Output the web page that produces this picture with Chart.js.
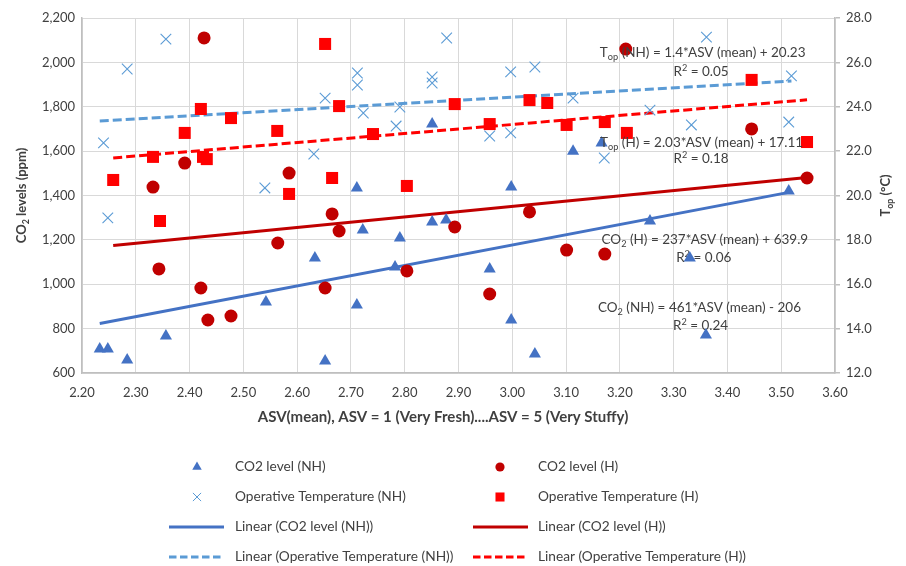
<!DOCTYPE html>
<html><head><meta charset="utf-8">
<script src="https://cdn.jsdelivr.net/npm/chart.js@4/dist/chart.umd.min.js"></script>
<style>html,body{margin:0;padding:0;background:#fff}canvas{display:block}</style>
</head><body>
<canvas id="c" width="906" height="566"></canvas>
<script>
// ---- data ----
const asvCO2NH = [2.233,2.248,2.284,2.356,2.542,2.633,2.652,2.711,2.711,2.722,2.782,2.791,2.851,2.851,2.877,2.958,2.998,2.998,3.042,3.113,3.166,3.256,3.330,3.360,3.514];
const co2NH    = [708,708,659,767,920,1118,654,907,1434,1245,1078,1208,1281,1722,1290,1069,1438,839,686,1600,1637,1285,1118,771,1420];

const asvCO2H = [2.332,2.343,2.391,2.421,2.427,2.434,2.477,2.564,2.585,2.652,2.665,2.678,2.804,2.893,2.958,3.032,3.101,3.172,3.211,3.445,3.548];
const co2H    = [1438,1069,1546,983,2110,839,857,1186,1501,983,1317,1240,1060,1258,956,1326,1154,1136,2060,1700,1479];

const asvTopNH = [2.240,2.248,2.284,2.356,2.540,2.631,2.652,2.712,2.712,2.723,2.784,2.791,2.851,2.851,2.878,2.958,2.997,2.997,3.042,3.113,3.171,3.256,3.333,3.361,3.514,3.519];
const topNH    = [22.37,18.99,25.70,27.05,20.34,21.87,24.39,25.52,24.98,23.72,23.13,23.99,25.34,25.07,27.10,22.68,25.57,22.82,25.79,24.39,21.69,23.85,23.18,27.14,23.31,25.39];

const asvTopH = [2.258,2.332,2.345,2.391,2.421,2.425,2.432,2.477,2.563,2.585,2.652,2.665,2.678,2.741,2.804,2.893,2.958,3.032,3.065,3.101,3.172,3.213,3.445,3.548];
const topH    = [20.70,21.74,18.85,22.82,23.90,21.74,21.64,23.49,22.91,20.07,26.83,20.79,24.03,22.77,20.43,24.12,23.22,24.30,24.17,23.18,23.31,22.82,25.21,22.41];

// trendline coefficients [slope, intercept] as printed on the chart
const fitCO2NH = [461, -206];
const fitCO2H  = [237, 639.9];
const fitTopNH = [1.4, 20.23];
const fitTopH  = [2.03, 17.11];

const xTicks = {min:2.2, max:3.6, step:0.1};
const yTicks = {min:600, max:2200, step:200};
const y2Ticks = {min:12, max:28, step:2};

const seriesNames = ['CO2 level (NH)','CO2 level (H)','Operative Temperature (NH)','Operative Temperature (H)',
  'Linear (CO2 level (NH))','Linear (CO2 level (H))','Linear (Operative Temperature (NH))','Linear (Operative Temperature (H))'];

// equation labels: [segments, asv, value, axis]
const eqTop = [
  [[['T'],['op','sub'],[' (NH) = 1.4*ASV (mean) + 20.23']], 3.354, 26.42, 'y2'],
  [[['R'],['2','sup'],[' = 0.05']], 3.351, 25.57, 'y2'],
  [[['T'],['op','sub'],[' (H) = 2.03*ASV (mean) + 17.11']], 3.352, 22.37, 'y2'],
  [[['R'],['2','sup'],[' = 0.18']], 3.351, 21.64, 'y2']
];
const eqCO2 = [
  [[['CO'],['2','sub'],[' (H) = 237*ASV (mean) + 639.9']], 3.358, 1199, 'y'],
  [[['R'],['2','sup'],[' = 0.06']], 3.356, 1118, 'y'],
  [[['CO'],['2','sub'],[' (NH) = 461*ASV (mean) - 206']], 3.348, 893, 'y'],
  [[['R'],['2','sup'],[' = 0.24']], 3.350, 812, 'y']
];

// ---- helpers ----
const FONT = 'Lato, "Open Sans", sans-serif';
const TXT = '#404040';
const pts = (xs, ys) => xs.map((x,i)=>({x, y: ys[i]}));
function fitLine(fit, xsA, xsB){
  const all = xsA.concat(xsB);
  const lo = Math.min(...all), hi = Math.max(...all);
  return [{x:lo, y:fit[0]*lo+fit[1]}, {x:hi, y:fit[0]*hi+fit[1]}];
}
function drawRich(ctx, parts, x, y, size, weight){
  const f = (s)=> `${weight} ${s}px ${FONT}`;
  let w = 0;
  parts.forEach(p=>{ctx.font = f(p[1]?size*0.68:size); w += ctx.measureText(p[0]).width;});
  let cx = x - w/2;
  ctx.textBaseline = 'middle'; ctx.textAlign = 'left';
  parts.forEach(p=>{
    const fs = p[1]?size*0.68:size;
    ctx.font = f(fs);
    const dy = p[1]==='sub'? size*0.32 : (p[1]==='sup'? -size*0.3 : 0);
    ctx.fillText(p[0], cx, y+dy);
    cx += ctx.measureText(p[0]).width;
  });
}
function drawMarker(ctx, style, x, y, r, color){
  ctx.save();
  ctx.fillStyle = color; ctx.strokeStyle = color; ctx.lineWidth = 1;
  ctx.beginPath();
  if (style==='triangle'){
    ctx.moveTo(x, y - r);
    ctx.lineTo(x + r*0.866, y + r*0.5);
    ctx.lineTo(x - r*0.866, y + r*0.5);
    ctx.closePath(); ctx.fill();
  } else if (style==='circle'){
    ctx.arc(x, y, r, 0, Math.PI*2); ctx.fill();
  } else if (style==='rect'){
    const s = r*Math.SQRT1_2; ctx.rect(x-s, y-s, 2*s, 2*s); ctx.fill();
  } else if (style==='crossRot'){
    const s = r*Math.SQRT1_2;
    ctx.moveTo(x-s,y-s); ctx.lineTo(x+s,y+s); ctx.moveTo(x-s,y+s); ctx.lineTo(x+s,y-s); ctx.stroke();
  }
  ctx.restore();
}
function drawEqs(chart, list){
  const ctx = chart.ctx; ctx.save(); ctx.fillStyle = TXT;
  const xs = chart.scales.x;
  list.forEach(e=>{
    const px = xs.getPixelForValue(e[1]);
    const py = chart.scales[e[3]].getPixelForValue(e[2]);
    drawRich(ctx, e[0], px, py, 13.5, 'normal');
  });
  ctx.restore();
}

const C_NH = '#4472C4', C_H = '#C00000', C_TNH = '#5B9BD5', C_TH = '#FF0000';

const extras = {
  id:'extras',
  beforeDatasetsDraw(chart){ drawEqs(chart, eqCO2); },
  afterDatasetsDraw(chart){ drawEqs(chart, eqTop); },
  afterDraw(chart){
    const ctx = chart.ctx, ca = chart.chartArea;
    ctx.save(); ctx.fillStyle = TXT;
    const midY = (ca.top + ca.bottom)/2;
    // left axis title
    ctx.save(); ctx.translate(22, midY); ctx.rotate(-Math.PI/2);
    drawRich(ctx, [['CO'],['2','sub'],[' levels (ppm)']], 0, 0, 13, 'bold'); ctx.restore();
    // right axis title
    ctx.save(); ctx.translate(886, midY); ctx.rotate(-Math.PI/2);
    drawRich(ctx, [['T'],['op','sub'],[' (°C)']], 0, 0, 13, 'bold'); ctx.restore();
    // x axis title
    drawRich(ctx, [['ASV(mean), ASV = 1 (Very Fresh)....ASV = 5 (Very Stuffy)']], 443, 417, 15, 'bold');
    // legend
    const ds = chart.data.datasets;
    const cols = [{m:197, t:235, l0:169, l1:224},{m:500, t:538, l0:473, l1:528}];
    const rows = [467, 497, 527, 557];
    ds.forEach((d,i)=>{
      const li = d.legendPos; const c = cols[li[1]]; const y = rows[li[0]];
      if (d.showLine){
        ctx.save(); ctx.strokeStyle = d.borderColor; ctx.lineWidth = 3;
        ctx.setLineDash(d.borderDash ? [7.5,3.5] : []);
        ctx.beginPath(); ctx.moveTo(c.l0, y); ctx.lineTo(c.l1, y); ctx.stroke(); ctx.restore();
      } else {
        const r = {triangle:5.5, circle:4.6, rect:6.4, crossRot:5.8}[d.pointStyle];
        drawMarker(ctx, d.pointStyle, c.m, y, r, d.pointBackgroundColor || d.pointBorderColor);
      }
      ctx.fillStyle = TXT; ctx.font = `13.7px ${FONT}`; ctx.textAlign='left'; ctx.textBaseline='middle';
      ctx.fillText(d.label, c.t, y);
    });
    ctx.restore();
  }
};

const tickFont = {family: FONT, size: 13};
new Chart(document.getElementById('c'), {
  type: 'scatter',
  data: {datasets: [
    {label: seriesNames[0], data: pts(asvCO2NH, co2NH), yAxisID:'y', pointStyle:'triangle', pointRadius:7,
     pointBackgroundColor:C_NH, pointBorderColor:C_NH, pointBorderWidth:0, order:4, legendPos:[0,0]},
    {label: seriesNames[1], data: pts(asvCO2H, co2H), yAxisID:'y', pointStyle:'circle', pointRadius:6.5,
     pointBackgroundColor:C_H, pointBorderColor:C_H, pointBorderWidth:0, order:3, legendPos:[0,1]},
    {label: seriesNames[2], data: pts(asvTopNH, topNH), yAxisID:'y2', pointStyle:'crossRot', pointRadius:7.5,
     pointBackgroundColor:C_TNH, pointBorderColor:C_TNH, pointBorderWidth:1.1, order:2, legendPos:[1,0]},
    {label: seriesNames[3], data: pts(asvTopH, topH), yAxisID:'y2', pointStyle:'rect', pointRadius:8.5,
     pointBackgroundColor:C_TH, pointBorderColor:C_TH, pointBorderWidth:0, order:1, legendPos:[1,1]},
    {label: seriesNames[4], data: fitLine(fitCO2NH, asvCO2NH, asvTopNH), yAxisID:'y', showLine:true, pointRadius:0,
     borderColor:C_NH, borderWidth:3, order:8, legendPos:[2,0]},
    {label: seriesNames[5], data: fitLine(fitCO2H, asvCO2H, asvTopH), yAxisID:'y', showLine:true, pointRadius:0,
     borderColor:C_H, borderWidth:3, order:7, legendPos:[2,1]},
    {label: seriesNames[6], data: fitLine(fitTopNH, asvCO2NH, asvTopNH), yAxisID:'y2', showLine:true, pointRadius:0,
     borderColor:C_TNH, borderWidth:3, borderDash:[9,4], order:6, legendPos:[3,0]},
    {label: seriesNames[7], data: fitLine(fitTopH, asvCO2H, asvTopH), yAxisID:'y2', showLine:true, pointRadius:0,
     borderColor:C_TH, borderWidth:3, borderDash:[9,4], order:5, legendPos:[3,1]}
  ]},
  options: {
    responsive:false, animation:false, devicePixelRatio:1,
    layout:{padding:{top:18, left:0, right:0, bottom:133}},
    plugins:{legend:{display:false}, tooltip:{enabled:false}},
    scales:{
      x:{type:'linear', position:'bottom', min:xTicks.min, max:xTicks.max,
         ticks:{stepSize:xTicks.step, callback:v=>Number(v).toFixed(2), padding:12, color:TXT, font:tickFont, maxRotation:0, autoSkip:false},
         grid:{color:'#D9D9D9', lineWidth:1, drawTicks:false},
         border:{color:'#BFBFBF', width:1.5},
         afterFit(s){ s.height = 60; }},
      y:{type:'linear', position:'left', min:yTicks.min, max:yTicks.max,
         ticks:{stepSize:yTicks.step, callback:v=>Number(v).toLocaleString('en-US'), padding:7, color:TXT, font:tickFont},
         grid:{color:'#D9D9D9', lineWidth:1, drawTicks:false},
         border:{color:'#BFBFBF', width:1.5},
         afterFit(s){ s.width = 82; }},
      y2:{type:'linear', position:'right', min:y2Ticks.min, max:y2Ticks.max,
         ticks:{stepSize:y2Ticks.step, callback:v=>Number(v).toFixed(1), padding:6, color:TXT, font:tickFont},
         grid:{drawOnChartArea:false, drawTicks:true, tickLength:5, color:'#BFBFBF', lineWidth:1.5},
         border:{color:'#BFBFBF', width:1.5},
         afterFit(s){ s.width = 71; }}
    }
  },
  plugins:[extras]
});
</script>
</body></html>
